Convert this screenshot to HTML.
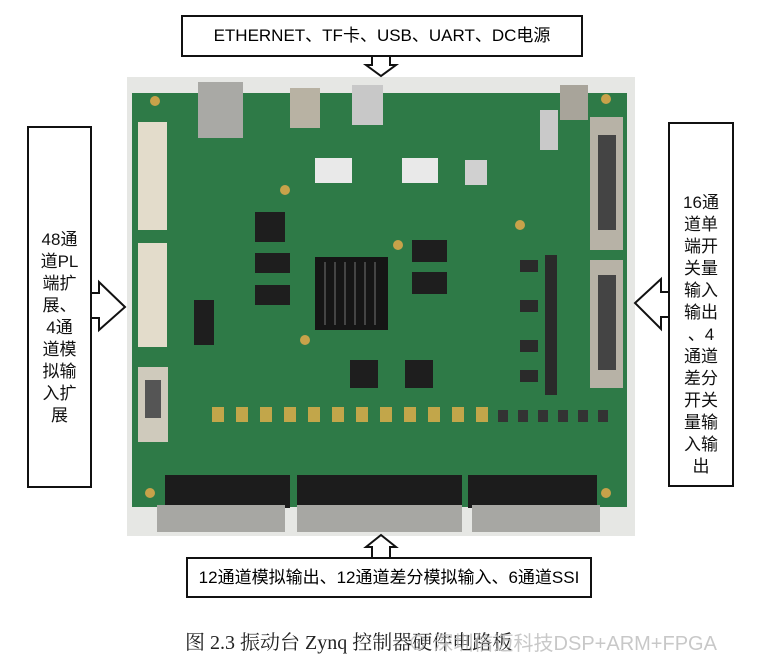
<!DOCTYPE html>
<html><head><meta charset="utf-8"><style>
body{margin:0;width:762px;height:659px;background:#fff;position:relative;overflow:hidden;font-family:"Liberation Sans","Noto Sans CJK SC",sans-serif}
.a{position:absolute}
.box{position:absolute;border:2px solid #111;background:#fff;box-sizing:border-box}
.vt{position:absolute;font-size:17px;line-height:22px;color:#111;text-align:center;width:100%}
</style></head><body>
<div class="a" style="left:127px;top:77px;width:508px;height:459px;background:#e6e7e4"></div>
<svg class="a" style="left:0;top:0" width="762" height="659">
<rect x="132" y="93" width="495" height="414" fill="#2e7a47"/>
<rect x="198" y="82" width="45" height="56" fill="#a9a9a5"/>
<rect x="290" y="88" width="30" height="40" fill="#b8b2a3"/>
<rect x="352" y="85" width="31" height="40" fill="#c8c8c8"/>
<rect x="138" y="122" width="29" height="108" fill="#e3dccb"/>
<rect x="138" y="243" width="29" height="104" fill="#e3dccb"/>
<rect x="138" y="367" width="30" height="75" fill="#cfcabc"/>
<rect x="145" y="380" width="16" height="38" fill="#555"/>
<rect x="315" y="257" width="73" height="73" fill="#151515"/>
<g stroke="#444" stroke-width="2"><path d="M325 262v63M335 262v63M345 262v63M355 262v63M365 262v63M375 262v63"/></g>
<rect x="315" y="158" width="37" height="25" fill="#e9e9e9"/>
<rect x="402" y="158" width="36" height="25" fill="#e9e9e9"/>
<rect x="465" y="160" width="22" height="25" fill="#d0d0d0"/>
<rect x="590" y="117" width="33" height="133" fill="#b7b2a6"/>
<rect x="598" y="135" width="18" height="95" fill="#444"/>
<rect x="590" y="260" width="33" height="128" fill="#b7b2a6"/>
<rect x="598" y="275" width="18" height="95" fill="#444"/>
<rect x="560" y="85" width="28" height="35" fill="#a8a49a"/>
<rect x="540" y="110" width="18" height="40" fill="#c9c9c9"/>
<rect x="255" y="212" width="30" height="30" fill="#1e1e1e"/>
<rect x="255" y="253" width="35" height="20" fill="#1e1e1e"/>
<rect x="255" y="285" width="35" height="20" fill="#1e1e1e"/>
<rect x="412" y="240" width="35" height="22" fill="#1e1e1e"/>
<rect x="412" y="272" width="35" height="22" fill="#1e1e1e"/>
<rect x="350" y="360" width="28" height="28" fill="#1e1e1e"/>
<rect x="405" y="360" width="28" height="28" fill="#1e1e1e"/>
<rect x="194" y="300" width="20" height="45" fill="#1e1e1e"/>
<g fill="#2a2a2a"><rect x="545" y="255" width="12" height="140"/><rect x="520" y="260" width="18" height="12"/><rect x="520" y="300" width="18" height="12"/><rect x="520" y="340" width="18" height="12"/><rect x="520" y="370" width="18" height="12"/></g>
<g fill="#c2a64a"><rect x="212" y="407" width="12" height="15"/><rect x="236" y="407" width="12" height="15"/><rect x="260" y="407" width="12" height="15"/><rect x="284" y="407" width="12" height="15"/><rect x="308" y="407" width="12" height="15"/><rect x="332" y="407" width="12" height="15"/><rect x="356" y="407" width="12" height="15"/><rect x="380" y="407" width="12" height="15"/><rect x="404" y="407" width="12" height="15"/><rect x="428" y="407" width="12" height="15"/><rect x="452" y="407" width="12" height="15"/><rect x="476" y="407" width="12" height="15"/></g>
<g fill="#333"><rect x="498" y="410" width="10" height="12"/><rect x="518" y="410" width="10" height="12"/><rect x="538" y="410" width="10" height="12"/><rect x="558" y="410" width="10" height="12"/><rect x="578" y="410" width="10" height="12"/><rect x="598" y="410" width="10" height="12"/></g>
<rect x="165" y="475" width="125" height="33" fill="#1c1c1c"/>
<rect x="157" y="505" width="128" height="27" fill="#a7a7a3"/>
<rect x="297" y="475" width="165" height="33" fill="#1c1c1c"/>
<rect x="297" y="505" width="165" height="27" fill="#a7a7a3"/>
<rect x="468" y="475" width="129" height="33" fill="#1c1c1c"/>
<rect x="472" y="505" width="128" height="27" fill="#a7a7a3"/>
<g fill="#c8a24a"><circle cx="155" cy="101" r="5"/><circle cx="606" cy="99" r="5"/><circle cx="150" cy="493" r="5"/><circle cx="606" cy="493" r="5"/><circle cx="285" cy="190" r="5"/><circle cx="520" cy="225" r="5"/><circle cx="398" cy="245" r="5"/><circle cx="305" cy="340" r="5"/></g>
<path d="M91 293H99V282L125 307L99 330V318H91" fill="#fff" stroke="#111" stroke-width="2"/>
<path d="M669 292H661V279L635 303L661 329V317H669" fill="#fff" stroke="#111" stroke-width="2"/>
<path d="M372 56V65H366L381 76L396 65H390V56" fill="#fff" stroke="#111" stroke-width="2"/>
<path d="M372 558V547H366L381 535L396 547H390V558" fill="#fff" stroke="#111" stroke-width="2"/>
</svg>
<div class="box" style="left:181px;top:15px;width:402px;height:42px;text-align:center;font-size:17px;line-height:38px">ETHERNET、TF卡、USB、UART、DC电源</div>
<div class="box" style="left:27px;top:126px;width:65px;height:362px"><div class="vt" style="top:101px">48通<br>道PL<br>端扩<br>展、<br>4通<br>道模<br>拟输<br>入扩<br>展</div></div>
<div class="box" style="left:668px;top:122px;width:66px;height:365px"><div class="vt" style="top:68px">16通<br>道单<br>端开<br>关量<br>输入<br>输出<br>、4<br>通道<br>差分<br>开关<br>量输<br>入输<br>出</div></div>
<div class="box" style="left:186px;top:557px;width:406px;height:41px;text-align:center;font-size:17px;line-height:37px">12通道模拟输出、12通道差分模拟输入、6通道SSI</div>
<div class="a" style="left:185px;top:626px;font-family:'Liberation Serif','Noto Serif CJK SC',serif;font-size:20px;color:#222;white-space:nowrap">图 2.3 振动台 Zynq 控制器硬件电路板</div>
<div class="a" style="left:408px;top:627px;font-size:20px;color:#bbb;white-space:nowrap;opacity:0.8">⊙ 深圳信迈科技DSP+ARM+FPGA</div>
</body></html>
